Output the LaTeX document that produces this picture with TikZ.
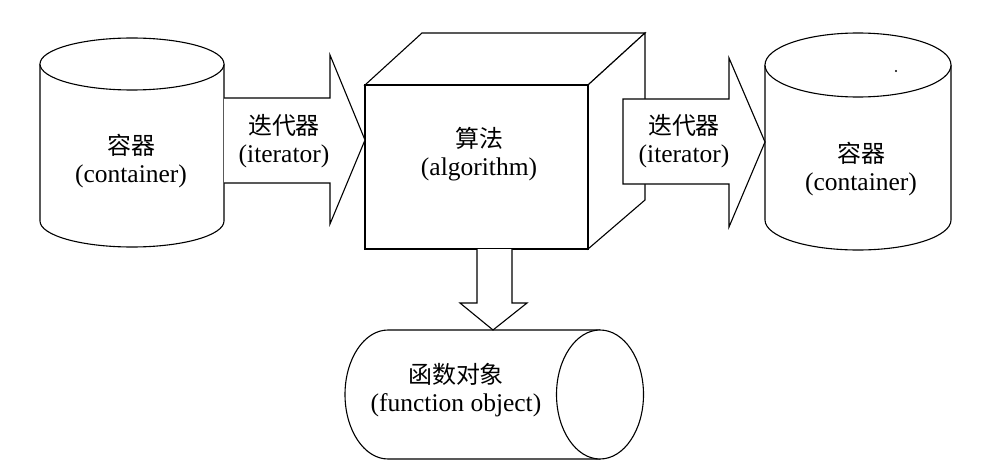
\documentclass[tikz,border=0pt]{standalone}
\usepackage{fontspec}
\setmainfont{Liberation Serif}
\newfontfamily\cjk[Scale=0.94]{Noto Sans CJK SC}
\begin{document}
\begin{tikzpicture}[x=1pt,y=1pt,
  outl/.style={draw=black,line width=1.1pt,fill=white,line join=miter},
  lbl/.style={align=center,font=\fontsize{25.5}{28}\selectfont,inner sep=0pt}]
\useasboundingbox[fill=white] (0,0) rectangle (998,-476);
% left cylinder
\draw[outl] (40,-64) -- (40,-221) arc[start angle=180,end angle=360,x radius=92pt,y radius=26pt] -- (224,-64);
\draw[outl] (132,-64) ellipse[x radius=92pt,y radius=26pt];
% right cylinder
\draw[outl] (765,-65) -- (765,-220) arc[start angle=180,end angle=360,x radius=93pt,y radius=30pt] -- (951,-65);
\draw[outl] (858,-65) ellipse[x radius=93pt,y radius=32pt];
\fill (896,-71) circle[radius=1.2pt];
% cube
\draw[outl] (365,-85) -- (422,-33) -- (645,-33) -- (588,-85) -- cycle;
\draw[outl] (588,-85) -- (645,-33) -- (645,-200) -- (588,-249) -- cycle;
\draw[outl] (365,-85) rectangle (588,-249);
% left block arrow
\draw[outl] (224,-98) -- (330,-98) -- (330,-55) -- (365,-140) -- (330,-224) -- (330,-183) -- (224,-183);
% right block arrow
\draw[outl] (623,-99) -- (729,-99) -- (729,-58) -- (765,-142) -- (729,-227) -- (729,-184) -- (623,-184) -- cycle;
% horizontal cylinder
\draw[outl] (600,-330) -- (388,-330) arc[start angle=90,end angle=270,x radius=43pt,y radius=64.5pt] -- (600,-459);
\draw[outl] (600,-394.5) ellipse[x radius=43.5pt,y radius=64.5pt];
% down block arrow
\draw[outl] (477,-249) -- (477,-303) -- (460,-303) -- (493,-330) -- (527,-303) -- (512,-303) -- (512,-249);
% labels
\node[lbl] (c1) at (131,-161) {{\cjk 容器}\\(container)};
\node[lbl] (i1) at (284,-141) {{\cjk 迭代器}\\(iterator)};
\node[lbl] (al) at (479,-154) {{\cjk 算法}\\(algorithm)};
\node[lbl] (i2) at (684,-141) {{\cjk 迭代器}\\(iterator)};
\node[lbl] (c2) at (861,-169) {{\cjk 容器}\\(container)};
\node[lbl] (fo) at (456,-390) {{\cjk 函数对象}\\(function object)};
\end{tikzpicture}
\end{document}
